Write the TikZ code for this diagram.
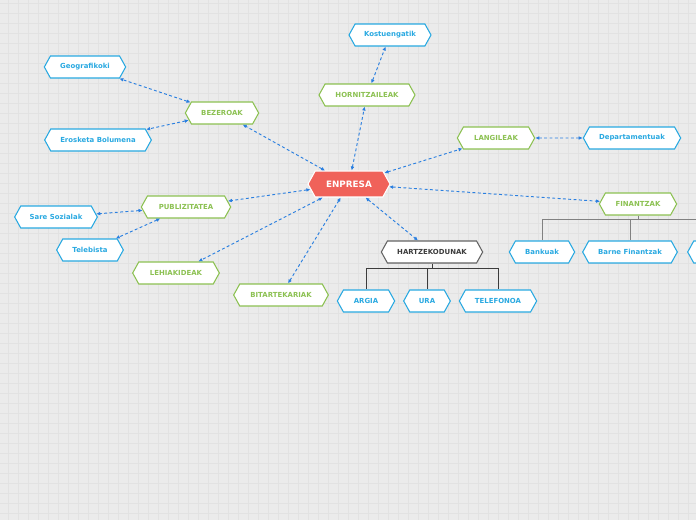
\documentclass[tikz,border=0pt]{standalone}
\usepackage{fontspec}
\setmainfont{DejaVu Sans}
\usepackage{xcolor}
\usepackage{tikz}
\usetikzlibrary{shapes.symbols,arrows.meta,positioning,calc}
\definecolor{paperGray}{HTML}{EBEBEB}
\definecolor{gridGray}{HTML}{E2E2E2}
\definecolor{leafGreen}{HTML}{8CC152}
\definecolor{skyBlue}{HTML}{29A9E1}
\definecolor{coralRed}{HTML}{F0625A}
\definecolor{linkBlue}{HTML}{2A7FE0}
\definecolor{inkGray}{HTML}{3C3C3C}

\begin{document}
\begin{tikzpicture}[
    x=0.75pt, y=-0.75pt,
    font=\bfseries\fontsize{5.2}{6}\selectfont,
    hexbox/.style={signal, signal to=east and west, signal pointer angle=122, draw, fill=white, line width=0.8pt, minimum height=16.5pt, inner sep=0pt, align=center},
    topic/.style={hexbox, draw=leafGreen, text=leafGreen},
    leaf/.style={hexbox, draw=skyBlue, text=skyBlue},
    plainhex/.style={hexbox, draw=inkGray!80, text=inkGray},
    core/.style={hexbox, fill=coralRed, draw=white, text=white, minimum height=19.5pt, font=\bfseries\fontsize{6.6}{8}\selectfont},
    link/.style={linkBlue, line width=0.7pt, dash pattern=on 2.2pt off 1.8pt, {Latex[length=3pt,width=2.8pt]}-{Latex[length=3pt,width=2.8pt]}},
    tree/.style={line width=0.6pt}
  ]
    % paper and grid
    \fill[paperGray] (0,0) rectangle (696,520);
    \useasboundingbox (0,0) rectangle (696,520);
    \clip (0,0) rectangle (696,520);
    \foreach \gx in {8,18,...,698} \draw[gridGray, line width=0.5pt] (\gx,0) -- (\gx,520);
    \foreach \gy in {3,13,...,523} \draw[gridGray, line width=0.5pt] (0,\gy) -- (696,\gy);

    % centre
    \node[core, minimum width=61.5pt] (enpresa) at (349,184) {ENPRESA};

    % main topics
    \node[topic, minimum width=72pt] (hornitz) at (367,95) {HORNITZAILEAK};
    \node[topic, minimum width=55pt] (bezero) at (222,113) {BEZEROAK};
    \node[topic, minimum width=58pt] (langile) at (496,138) {LANGILEAK};
    \node[topic, minimum width=58pt] (finantz) at (638,204) {FINANTZAK};
    \node[topic, minimum width=67pt] (publiz) at (186,207) {PUBLIZITATEA};
    \node[topic, minimum width=65pt] (lehiak) at (176,273) {LEHIAKIDEAK};
    \node[topic, minimum width=71pt] (bitart) at (281,295) {BITARTEKARIAK};
    \node[plainhex, minimum width=76pt] (hartzek) at (432,252) {HARTZEKODUNAK};

    % leaves
    \node[leaf, minimum width=61.5pt] (kostu) at (390,35) {Kostuengatik};
    \node[leaf, minimum width=61pt] (geogr) at (85,67) {Geografikoki};
    \node[leaf, minimum width=80pt] (erosk) at (98,140) {Erosketa Bolumena};
    \node[leaf, minimum width=73pt] (depart) at (632,138) {Departamentuak};
    \node[leaf, minimum width=62pt] (sare) at (56,217) {Sare Sozialak};
    \node[leaf, minimum width=50pt] (telebi) at (90,250) {Telebista};
    \node[leaf, minimum width=49pt] (banku) at (542,252) {Bankuak};
    \node[leaf, minimum width=71pt] (barne) at (630,252) {Barne Finantzak};
    \node[leaf, minimum width=71pt] (finmore) at (735,252) {};
    \node[leaf, minimum width=43pt] (argia) at (366,301) {ARGIA};
    \node[leaf, minimum width=35pt] (ura) at (427,301) {URA};
    \node[leaf, minimum width=58pt] (telef) at (498,301) {TELEFONOA};

    % dashed links
    \draw[link] (enpresa) -- (bezero);
    \draw[link] (enpresa) -- (hornitz);
    \draw[link] (hornitz) -- (kostu);
    \draw[link] (bezero) -- (geogr);
    \draw[link] (bezero) -- (erosk);
    \draw[link] (enpresa) -- (langile);
    \draw[link] (langile) -- (depart);
    \draw[link] (enpresa) -- (finantz);
    \draw[link] (enpresa) -- (hartzek);
    \draw[link] (enpresa) -- (publiz);
    \draw[link] (publiz) -- (sare);
    \draw[link] (publiz) -- (telebi);
    \draw[link] (enpresa) -- (lehiak);
    \draw[link] (enpresa) -- (bitart);

    % trees
    \draw[tree, inkGray] (hartzek.south) -- ++(0,5) -| (argia.north);
    \draw[tree, inkGray] (hartzek.south) ++(0,5) -| (ura.north);
    \draw[tree, inkGray] (hartzek.south) ++(0,5) -| (telef.north);
    \draw[tree, gray] (finantz.south) -- ++(0,4) -| (banku.north);
    \draw[tree, gray] (finantz.south) ++(0,4) -| (barne.north);
    \draw[tree, gray] (finantz.south) ++(0,4) -| (finmore.north);
  \end{tikzpicture}
\end{document}
